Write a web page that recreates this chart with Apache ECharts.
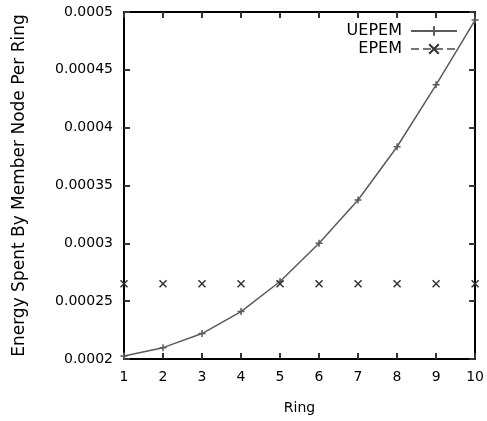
<!DOCTYPE html>
<html>
<head>
<meta charset="utf-8">
<script src="https://cdn.jsdelivr.net/npm/echarts@6/dist/echarts.min.js"></script>
<style>html,body{margin:0;padding:0;background:#fff;}#c{width:487px;height:421px;}</style>
</head>
<body>
<div id="c"></div>
<script>
const rings = [1, 2, 3, 4, 5, 6, 7, 8, 9, 10];
const uepem = [0.0002026, 0.0002098, 0.000222, 0.000241, 0.000267, 0.0003, 0.0003375, 0.0003835, 0.000437, 0.000493];
const epem = [0.000265, 0.000265, 0.000265, 0.000265, 0.000265, 0.000265, 0.000265, 0.000265, 0.000265, 0.000265];
const yTicks = ['0.0002', '0.00025', '0.0003', '0.00035', '0.0004', '0.00045', '0.0005'];

const FONT = 'DejaVu Sans';
const plusSym = 'path://M0,5L10,5M5,0L5,10';
const crossSym = 'path://M0,0L10,10M10,0L0,10';

const chart = echarts.init(document.getElementById('c'));
const tickStyle = {show: true, inside: true, length: 6, lineStyle: {color: '#333', width: 2}};
chart.setOption({
  animation: false,
  backgroundColor: '#fff',
  grid: {left: 124, right: 10, top: 12, bottom: 62},
  legend: {
    orient: 'vertical', right: 24, top: 18, align: 'right', itemGap: 2,
    itemWidth: 46, itemHeight: 12,
    textStyle: {fontFamily: FONT, fontSize: 16, lineHeight: 16, color: '#000', padding: [0, 4, 0, 0]},
    data: [
      {name: 'UEPEM'},
      {name: 'EPEM', lineStyle: {opacity: 1, type: 'dashed', width: 2, color: '#777'}}
    ]
  },
  xAxis: [{
    type: 'value', min: 1, max: 10, interval: 1,
    name: 'Ring', nameLocation: 'middle', nameGap: 42,
    nameTextStyle: {fontFamily: FONT, fontSize: 14, color: '#000'},
    axisLine: {show: true, lineStyle: {color: '#000', width: 2}},
    axisTick: tickStyle,
    axisLabel: {fontFamily: FONT, fontSize: 14, color: '#000', margin: 11},
    splitLine: {show: false}
  }, {
    type: 'value', min: 1, max: 10, interval: 1, position: 'top',
    axisLine: {show: true, lineStyle: {color: '#000', width: 2}},
    axisTick: tickStyle, axisLabel: {show: false}, splitLine: {show: false}
  }],
  yAxis: [{
    type: 'value', min: 0.0002, max: 0.0005, interval: 0.00005,
    name: 'Energy Spent By Member Node Per Ring', nameLocation: 'middle', nameGap: 96,
    nameTextStyle: {fontFamily: FONT, fontSize: 17, color: '#000'},
    axisLine: {show: true, lineStyle: {color: '#000', width: 2}},
    axisTick: tickStyle,
    axisLabel: {fontFamily: FONT, fontSize: 14, color: '#000', margin: 11,
      formatter: function (v) {
        const i = Math.round((v - 0.0002) / 0.00005);
        return yTicks[i] !== undefined ? yTicks[i] : '';
      }},
    splitLine: {show: false}
  }, {
    type: 'value', min: 0.0002, max: 0.0005, interval: 0.00005, position: 'right',
    axisLine: {show: true, lineStyle: {color: '#000', width: 2}},
    axisTick: tickStyle, axisLabel: {show: false}, splitLine: {show: false}
  }],
  series: [{
    name: 'UEPEM', type: 'line',
    data: rings.map((r, i) => [r, uepem[i]]),
    symbol: plusSym, symbolSize: 7, showSymbol: true,
    lineStyle: {color: '#5a5a5a', width: 1.5},
    itemStyle: {color: '#5a5a5a', borderColor: '#5a5a5a', borderWidth: 1.5}
  }, {
    name: 'EPEM', type: 'line',
    data: rings.map((r, i) => [r, epem[i]]),
    symbol: crossSym, symbolSize: 7, showSymbol: true,
    lineStyle: {opacity: 0, width: 0, color: '#777'},
    itemStyle: {color: '#333', borderColor: '#333', borderWidth: 1.5}
  }]
});
</script>
</body>
</html>
